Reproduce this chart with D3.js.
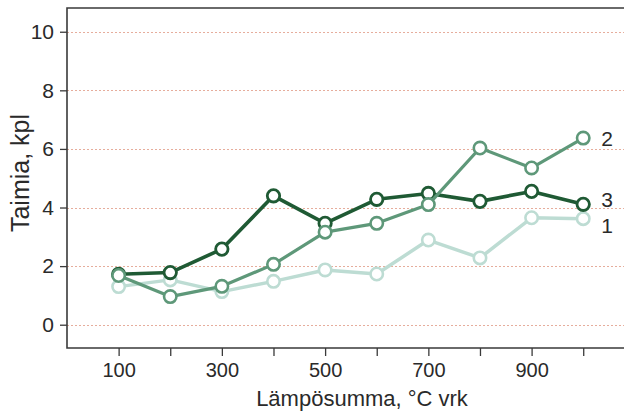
<!DOCTYPE html>
<html><head><meta charset="utf-8">
<script src="https://cdn.jsdelivr.net/npm/d3@7"></script>
<style>
html,body{margin:0;padding:0;background:#fff;}
svg{display:block;font-family:"Liberation Sans",Arial,Helvetica,sans-serif;}
</style></head>
<body><svg id="c" width="624" height="417"></svg>
<script>
const xValues = [100,200,300,400,500,600,700,800,900,1000];
const series1 = [1.30,1.53,1.13,1.48,1.87,1.73,2.89,2.28,3.65,3.62];
const series2 = [1.68,0.96,1.31,2.06,3.16,3.46,4.10,6.03,5.35,6.37];
const series3 = [1.72,1.78,2.58,4.40,3.46,4.28,4.48,4.21,4.55,4.11];
const seriesNames = ["1","2","3"];
const yTicks = [0,2,4,6,8,10];
const xTicks = [100,200,300,400,500,600,700,800,900,1000];
const xLabelTicks = [100,300,500,700,900];
const yTitle = "Taimia, kpl";
const xTitle = "Lämpösumma, °C vrk";

const svg = d3.select("#c");
const L = 67, T = 8, R = 624, B = 348;
const x = d3.scaleLinear().domain([0,1079]).range([L,R]);
const y = d3.scaleLinear().domain([-0.795,10.81]).range([B,T]);

// gridlines
svg.append("g").selectAll("line").data(yTicks).join("line")
  .attr("x1",L).attr("x2",R)
  .attr("y1",d=>Math.round(y(d))+0.5).attr("y2",d=>Math.round(y(d))+0.5)
  .attr("stroke","#e6ad9c").attr("stroke-width",1).attr("stroke-dasharray","2,2");

// frame: left + top + bottom
svg.append("path").attr("d",`M${R},${T}H${L}V${B}H${R}`)
  .attr("fill","none").attr("stroke","#3a3a3a").attr("stroke-width",1.6);

// y axis
const yAxis = d3.axisLeft(y).tickValues(yTicks).tickSize(7).tickPadding(6).tickFormat(d3.format("d"));
const gy = svg.append("g").attr("transform",`translate(${L},0)`).call(yAxis);
gy.select(".domain").remove();
gy.selectAll("line").attr("stroke","#3a3a3a").attr("stroke-width",1.3);
gy.selectAll("text").attr("font-size",21).attr("fill","#2a2a2a").attr("font-family","Liberation Sans, Arial, sans-serif");

// x axis
const xAxis = d3.axisBottom(x).tickValues(xTicks).tickSize(8).tickPadding(7)
  .tickFormat(d=> xLabelTicks.includes(d) ? String(d) : "");
const gx = svg.append("g").attr("transform",`translate(0,${B})`).call(xAxis);
gx.select(".domain").remove();
gx.selectAll("line").attr("stroke","#3a3a3a").attr("stroke-width",1.3);
gx.selectAll("text").attr("font-size",20).attr("fill","#2a2a2a").attr("font-family","Liberation Sans, Arial, sans-serif");

// titles
svg.append("text").attr("x",362).attr("y",406).attr("text-anchor","middle")
  .attr("font-size",22).attr("fill","#2a2a2a").text(xTitle);
svg.append("text").attr("transform","translate(29,173) rotate(-90)").attr("text-anchor","middle")
  .attr("font-size",25).attr("fill","#2a2a2a").text(yTitle);

// series
const defs = [
  {name:seriesNames[0], vals:series1, color:"#bddcd3", lw:3.5, cw:2.6},
  {name:seriesNames[2], vals:series3, color:"#1f5a34", lw:3.6, cw:2.8},
  {name:seriesNames[1], vals:series2, color:"#5e9879", lw:3.2, cw:2.6}
];
const line = d3.line().x(d=>x(d[0])).y(d=>y(d[1]));
defs.forEach(s=>{
  const pts = xValues.map((v,i)=>[v,s.vals[i]]);
  const g = svg.append("g");
  g.append("path").datum(pts).attr("d",line).attr("fill","none")
    .attr("stroke",s.color).attr("stroke-width",s.lw).attr("stroke-linejoin","round");
  g.selectAll("circle").data(pts).join("circle")
    .attr("cx",d=>x(d[0])).attr("cy",d=>y(d[1])).attr("r",6.2)
    .attr("fill","#fff").attr("stroke",s.color).attr("stroke-width",s.cw);
  const last = pts[pts.length-1];
  const dy = s.name==="1" ? 7 : (s.name==="3" ? -5 : 0);
  svg.append("text").attr("x",x(last[0])+18).attr("y",y(last[1])+dy)
    .attr("dominant-baseline","central").attr("font-size",21).attr("fill","#2a2a2a").text(s.name);
});
</script></body></html>
